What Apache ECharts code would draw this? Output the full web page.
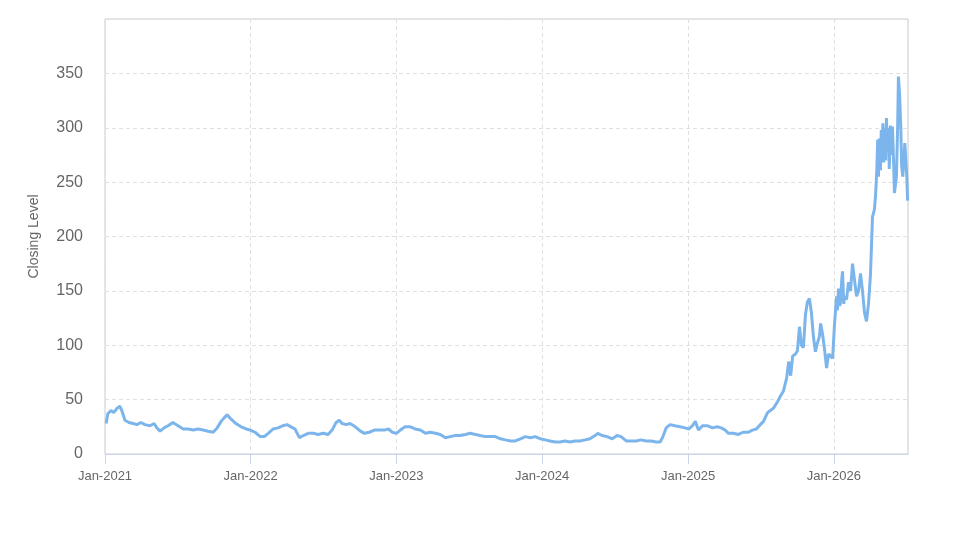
<!DOCTYPE html>
<html>
<head>
<meta charset="utf-8">
<script src="https://cdn.jsdelivr.net/npm/echarts@6/dist/echarts.min.js"></script>
<style>
  html, body { margin: 0; padding: 0; background: #fff; }
  #chart1 { width: 973px; height: 547px; }
</style>
</head>
<body>
<div id="chart1"></div>
<script>
// closing level
const dates = [
  "2021-01-04","2021-01-08","2021-01-16","2021-01-23","2021-01-31","2021-02-07","2021-02-12","2021-02-20",
  "2021-03-02","2021-03-12","2021-03-22","2021-04-01","2021-04-11","2021-04-24","2021-05-04","2021-05-11",
  "2021-05-19","2021-05-29","2021-06-08","2021-06-20","2021-07-03","2021-07-16","2021-07-28","2021-08-10",
  "2021-08-22","2021-09-04","2021-09-16","2021-09-29","2021-10-09","2021-10-19","2021-10-26","2021-11-03",
  "2021-11-13","2021-11-25","2021-12-08","2021-12-21","2021-12-31",
  "2022-01-12","2022-01-25","2022-02-04","2022-02-14","2022-02-26","2022-03-11","2022-03-23","2022-04-02",
  "2022-04-12","2022-04-22","2022-05-03","2022-05-13","2022-05-25","2022-06-07","2022-06-19","2022-07-02",
  "2022-07-14","2022-07-24","2022-08-03","2022-08-11","2022-08-18","2022-08-28","2022-09-07","2022-09-20",
  "2022-10-03","2022-10-13","2022-10-25","2022-11-07","2022-11-19","2022-12-02","2022-12-12","2022-12-22",
  "2023-01-01","2023-01-11","2023-01-23","2023-02-05","2023-02-17","2023-03-02","2023-03-15","2023-03-27",
  "2023-04-09","2023-04-21","2023-05-04","2023-05-16","2023-05-29","2023-06-10","2023-06-23","2023-07-05",
  "2023-07-18","2023-07-30","2023-08-12","2023-08-25","2023-09-06","2023-09-19","2023-10-01","2023-10-14",
  "2023-10-26","2023-11-08","2023-11-20","2023-12-03","2023-12-15","2023-12-28",
  "2024-01-09","2024-01-21","2024-02-03","2024-02-15","2024-02-28","2024-03-11","2024-03-24","2024-04-05",
  "2024-04-18","2024-04-30","2024-05-13","2024-05-20","2024-05-30","2024-06-12","2024-06-25","2024-07-07",
  "2024-07-17","2024-07-30","2024-08-11","2024-08-24","2024-09-05","2024-09-18","2024-09-30","2024-10-13",
  "2024-10-23","2024-10-30","2024-11-07","2024-11-17","2024-11-29","2024-12-12","2024-12-24",
  "2025-01-03","2025-01-12","2025-01-19","2025-01-27","2025-02-06","2025-02-18","2025-03-03","2025-03-15",
  "2025-03-25","2025-04-04","2025-04-12","2025-04-24","2025-05-07","2025-05-19","2025-06-01","2025-06-11",
  "2025-06-21","2025-07-01","2025-07-09","2025-07-19","2025-07-26","2025-08-03","2025-08-13","2025-08-20",
  "2025-08-28","2025-09-05","2025-09-10","2025-09-15","2025-09-20","2025-09-27","2025-10-02","2025-10-07",
  "2025-10-12","2025-10-17","2025-10-22","2025-10-27","2025-11-01","2025-11-06","2025-11-11","2025-11-16",
  "2025-11-21","2025-11-26","2025-11-29","2025-12-04","2025-12-09","2025-12-14","2025-12-19","2025-12-24",
  "2025-12-29",
  "2026-01-03","2026-01-08","2026-01-10","2026-01-13","2026-01-16","2026-01-18","2026-01-21","2026-01-23",
  "2026-01-26","2026-01-28","2026-02-02","2026-02-07","2026-02-12","2026-02-17","2026-02-22","2026-02-27",
  "2026-03-04","2026-03-09","2026-03-14","2026-03-19","2026-03-24","2026-03-29","2026-04-03","2026-04-08",
  "2026-04-13","2026-04-16","2026-04-19","2026-04-21","2026-04-23","2026-04-25","2026-04-28","2026-04-30",
  "2026-05-02","2026-05-04","2026-05-06","2026-05-08","2026-05-11","2026-05-13","2026-05-15","2026-05-18",
  "2026-05-20","2026-05-23","2026-05-26","2026-05-28","2026-05-31","2026-06-02","2026-06-07","2026-06-10",
  "2026-06-12","2026-06-15","2026-06-18","2026-06-20","2026-06-23","2026-06-28","2026-07-03","2026-07-05"
];
const closing = [
  28, 37, 40, 38, 42, 44, 40, 31,
  29, 28, 27, 29, 27, 26, 28, 24,
  21, 24, 26, 29, 26, 23, 23, 22,
  23, 22, 21, 20, 24, 30, 33, 36,
  32, 28, 25, 23, 22,
  20, 16, 16, 19, 23, 24, 26, 27,
  25, 23, 15, 17, 19, 19, 18, 19,
  18, 22, 29, 31, 28, 27, 28, 25,
  21, 19, 20, 22, 22, 22, 23, 20,
  19, 22, 25, 25, 23, 22, 19, 20,
  19, 18, 15, 16, 17, 17, 18, 19,
  18, 17, 16, 16, 16, 14, 13, 12,
  12, 14, 16, 15, 16, 14,
  13, 12, 11, 11, 12, 11, 12, 12,
  13, 14, 17, 19, 17, 16, 14, 17,
  16, 12, 12, 12, 13, 12, 12, 11,
  11, 16, 24, 27, 26, 25, 24,
  23, 26, 30, 22, 26, 26, 24, 25,
  24, 22, 19, 19, 18, 20, 20, 22,
  23, 27, 30, 38, 40, 42, 48, 53,
  58, 70, 85, 72, 90, 92, 95, 117,
  100, 98, 128, 140, 143, 130, 108, 94,
  102, 108, 120, 110, 96, 79, 92, 90,
  88,
  120, 145, 132, 152, 136, 140, 160, 168,
  138, 145, 142, 158, 150, 175, 160, 145,
  150, 166, 150, 130, 122, 138, 165, 218,
  225, 240, 262, 289, 255, 290, 261, 298,
  275, 304, 268, 300, 270, 309, 280, 300,
  262, 302, 275, 301, 268, 240, 255, 300,
  347, 330, 300, 265, 255, 286, 255, 233
];
const yTicks = [0, 50, 100, 150, 200, 250, 300, 350];
const monthNames = ["Jan","Feb","Mar","Apr","May","Jun","Jul","Aug","Sep","Oct","Nov","Dec"];

const chart = echarts.init(document.getElementById("chart1"));
const DAY = 86400000;

chart.setOption({
  animation: false,
  textStyle: { fontFamily: "Liberation Sans, Arial, sans-serif" },
  grid: {
    left: 105,
    right: 65,
    top: 19,
    bottom: 93,
    show: true,
    borderColor: "#cccccc",
    borderWidth: 1,
  },
  xAxis: {
    type: "time",
    min: "2021-01-01",
    max: "2026-07-06",
    minInterval: 365 * DAY,
    maxInterval: 366 * DAY,
    axisLine: { show: true, lineStyle: { color: "#ccd6eb", width: 1 } },
    axisTick: { show: true, length: 10, lineStyle: { color: "#ccd6eb" } },
    axisLabel: {
      color: "#666",
      fontSize: 13,
      margin: 16,
      hideOverlap: false,
      formatter: function (val) {
        const d = new Date(val);
        return monthNames[d.getMonth()] + "-" + d.getFullYear();
      },
    },
    splitLine: { show: true, lineStyle: { color: "#e0e0e0", type: [4, 3] } },
  },
  yAxis: {
    type: "value",
    min: 0,
    max: 400,
    interval: 50,
    name: "Closing Level",
    nameLocation: "middle",
    nameGap: 64,
    nameTextStyle: { color: "#666", fontSize: 14 },
    axisLine: { show: false },
    axisTick: { show: false },
    axisLabel: {
      color: "#666",
      fontSize: 16,
      margin: 22,
      showMaxLabel: false,
      formatter: function (v) {
        return yTicks.indexOf(v) >= 0 ? String(v) : "";
      },
    },
    splitLine: { show: true, lineStyle: { color: "#e0e0e0", type: [4, 3] } },
  },
  series: [
    {
      name: "Closing Level",
      type: "line",
      data: dates.map((d, i) => [d, closing[i]]),
      showSymbol: false,
      smooth: false,
      lineStyle: { color: "#7cb5ec", width: 3 },
      itemStyle: { color: "#7cb5ec" },
    },
  ],
});
</script>
</body>
</html>
